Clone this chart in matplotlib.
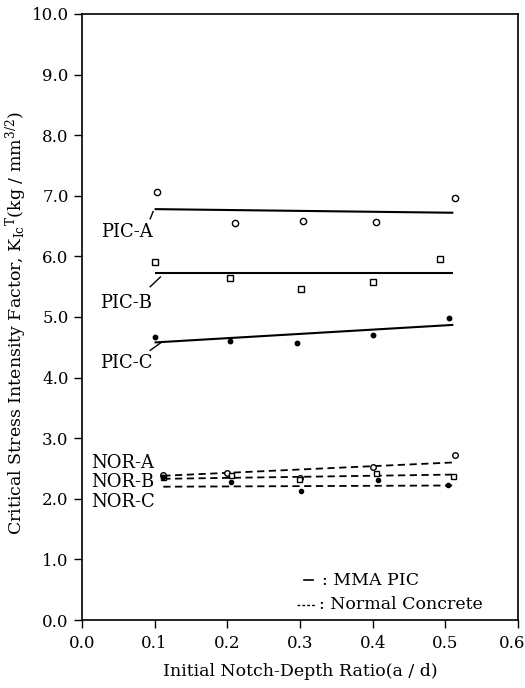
import matplotlib
matplotlib.use("Agg")
import matplotlib.pyplot as plt
from matplotlib.transforms import ScaledTranslation

plt.rcParams['font.family'] = ['DejaVu Serif']
plt.rcParams['mathtext.fontset'] = 'dejavuserif'

# ---- data ----
picA_x = [0.103, 0.211, 0.304, 0.404, 0.513]
picA_y = [7.06, 6.55, 6.59, 6.56, 6.97]
picB_x = [0.100, 0.204, 0.301, 0.401, 0.492]
picB_y = [5.90, 5.64, 5.47, 5.57, 5.96]
picC_x = [0.100, 0.204, 0.296, 0.401, 0.505]
picC_y = [4.67, 4.61, 4.57, 4.70, 4.98]

norA_x = [0.112, 0.200, 0.300, 0.400, 0.513]
norA_y = [2.40, 2.42, 2.35, 2.53, 2.72]
norB_x = [0.112, 0.205, 0.299, 0.405, 0.510]
norB_y = [2.36, 2.40, 2.33, 2.42, 2.37]
norC_x = [0.112, 0.205, 0.301, 0.408, 0.504]
norC_y = [2.36, 2.27, 2.13, 2.31, 2.22]

pic_fit_x = [0.100, 0.511]
nor_fit_x = [0.112, 0.511]
picA_fit = [6.78, 6.72]
picB_fit = [5.72, 5.72]
picC_fit = [4.58, 4.87]
norA_fit = [2.38, 2.60]
norB_fit = [2.33, 2.40]
norC_fit = [2.20, 2.22]

x_ticks = [0.0, 0.1, 0.2, 0.3, 0.4, 0.5, 0.6]
y_ticks = [0.0, 1.0, 2.0, 3.0, 4.0, 5.0, 6.0, 7.0, 8.0, 9.0, 10.0]

fig = plt.figure(figsize=(5.25, 6.88), dpi=100)
ax = fig.add_axes([0.156, 0.0988, 0.8307, 0.8809])

# fit lines
for fy in (picA_fit, picB_fit, picC_fit):
    ax.plot(pic_fit_x, fy, color='black', lw=1.5, solid_capstyle='butt')
for fy in (norA_fit, norB_fit, norC_fit):
    ax.plot(nor_fit_x, fy, color='black', lw=1.3, ls=(0, (4, 2.5)))

# markers
ax.plot(picA_x, picA_y, 'o', ms=4.5, mfc='white', mec='black', mew=1.0, ls='none')
ax.plot(picB_x, picB_y, 's', ms=4.0, mfc='white', mec='black', mew=1.0, ls='none')
ax.plot(picC_x, picC_y, 'o', ms=3.2, mfc='black', mec='black', ls='none')
ax.plot(norA_x, norA_y, 'o', ms=4.0, mfc='white', mec='black', mew=1.0, ls='none')
ax.plot(norB_x, norB_y, 's', ms=3.6, mfc='white', mec='black', mew=1.0, ls='none')
ax.plot(norC_x, norC_y, 'o', ms=3.0, mfc='black', mec='black', ls='none')

# series labels
lab_fs = 13
ax.text(0.027, 6.40, 'PIC-A', fontsize=lab_fs, va='center', ha='left')
ax.plot([0.094, 0.098], [6.62, 6.74], color='black', lw=1.0)
ax.text(0.025, 5.23, 'PIC-B', fontsize=lab_fs, va='center', ha='left')
ax.plot([0.094, 0.108], [5.50, 5.66], color='black', lw=1.0)
ax.text(0.025, 4.24, 'PIC-C', fontsize=lab_fs, va='center', ha='left')
ax.plot([0.094, 0.108], [4.45, 4.57], color='black', lw=1.0)
ax.text(0.013, 2.59, 'NOR-A', fontsize=lab_fs, va='center', ha='left')
ax.text(0.013, 2.28, 'NOR-B', fontsize=lab_fs, va='center', ha='left')
ax.text(0.013, 1.95, 'NOR-C', fontsize=lab_fs, va='center', ha='left')

# legend (text style)
ax.plot([0.306, 0.318], [0.66, 0.66], color='black', lw=1.2)
ax.text(0.330, 0.66, ': MMA PIC', fontsize=12.5, va='center', ha='left')
ax.plot([0.296, 0.322], [0.25, 0.25], color='black', lw=1.0, ls=(0, (2, 1.5)))
ax.text(0.326, 0.25, ': Normal Concrete', fontsize=12.5, va='center', ha='left')

ax.set_xlim(0.0, 0.6)
ax.set_ylim(0.0, 10.0)
ax.set_xticks(x_ticks)
ax.set_xticklabels([f'{v:.1f}' for v in x_ticks])
ax.set_yticks(y_ticks)
ax.set_yticklabels([f'{v:.1f}' for v in y_ticks])
ax.tick_params(axis='both', direction='out', length=6, width=1.0,
               labelsize=12, color='black')
ax.tick_params(axis='x', pad=5)
for sp in ax.spines.values():
    sp.set_linewidth(1.2)

# keep last x label inside the figure
last = ax.get_xticklabels()[-1]
last.set_transform(last.get_transform() + ScaledTranslation(-6 / 100, 0, fig.dpi_scale_trans))

ax.set_xlabel('Initial Notch-Depth Ratio(a / d)', fontsize=12.5, labelpad=8)
ax.set_ylabel(r'Critical Stress Intensity Factor, K$_{\mathrm{Ic}}$$^{\mathrm{T}}$(kg / mm$^{3/2}$)',
              fontsize=12.5)
ax.yaxis.set_label_coords(-0.122, 0.49)

fig.savefig('out.png', dpi=100)
